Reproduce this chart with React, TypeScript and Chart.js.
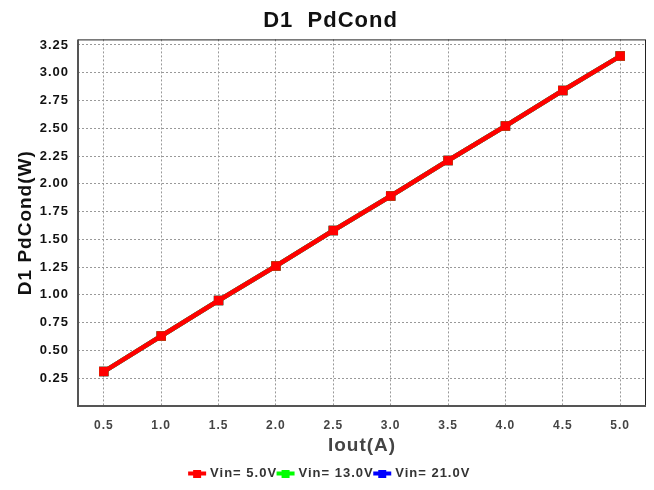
import React, { useEffect, useRef } from "react";
import { Chart, registerables } from "chart.js";

Chart.register(...registerables);

const iout = [0.5, 1.0, 1.5, 2.0, 2.5, 3.0, 3.5, 4.0, 4.5, 5.0];
const vin5 = [0.31, 0.63, 0.95, 1.26, 1.58, 1.89, 2.21, 2.52, 2.84, 3.15];
const vin13 = [0.31, 0.63, 0.95, 1.26, 1.58, 1.89, 2.21, 2.52, 2.84, 3.15];
const vin21 = [0.31, 0.63, 0.95, 1.26, 1.58, 1.89, 2.21, 2.52, 2.84, 3.15];
const xTicks = [0.5, 1.0, 1.5, 2.0, 2.5, 3.0, 3.5, 4.0, 4.5, 5.0];
const yTicks = [0.25, 0.5, 0.75, 1.0, 1.25, 1.5, 1.75, 2.0, 2.25, 2.5, 2.75, 3.0, 3.25];

const FONT = "'Liberation Sans', Arial, sans-serif";

const spacing = {
  id: "spacing",
  beforeLayout(chart: any) {
    chart.ctx.letterSpacing = "1px";
  },
  beforeDraw(chart: any) {
    chart.ctx.letterSpacing = "1px";
  },
};

const frame = {
  id: "frame",
  afterDatasetsDraw(chart: any) {
    const { ctx, chartArea: a } = chart;
    ctx.save();
    ctx.strokeStyle = "#222";
    ctx.lineWidth = 1;
    ctx.strokeRect(a.left + 0.5, a.top + 0.5, a.right - a.left - 1, a.bottom - a.top - 1);
    ctx.strokeStyle = "#555";
    ctx.lineWidth = 2;
    ctx.beginPath();
    ctx.moveTo(a.left, a.top);
    ctx.lineTo(a.left, a.bottom);
    ctx.lineTo(a.right, a.bottom);
    ctx.stroke();
    ctx.restore();
  },
};

function legendIcon(color: string) {
  const c = document.createElement("canvas");
  c.width = 20;
  c.height = 8;
  const g = c.getContext("2d")!;
  g.fillStyle = color;
  g.fillRect(1, 2, 18, 4);
  g.fillRect(6, 0, 8, 8);
  return c;
}

export default function App() {
  const ref = useRef<HTMLCanvasElement>(null);
  useEffect(() => {
    document.body.style.margin = "0";
    const mk = (label: string, data: number[], color: string, order: number) => ({
      label,
      data: iout.map((x, i) => ({ x, y: data[i] })),
      borderColor: color,
      backgroundColor: color,
      borderWidth: 4.5,
      pointStyle: "rect",
      pointRadius: 3.5,
      pointHoverRadius: 3.5,
      order,
    });
    const colors = ["#ff0000", "#00ff00", "#0000ff"];
    const chart = new Chart(ref.current!, {
      type: "line",
      data: {
        datasets: [
          mk("Vin= 5.0V", vin5, colors[0], 0),
          mk("Vin= 13.0V", vin13, colors[1], 1),
          mk("Vin= 21.0V", vin21, colors[2], 2),
        ],
      },
      options: {
        animation: false,
        responsive: false,
        layout: { padding: { left: 14, right: 7, top: 2, bottom: 0 } },
        plugins: {
          title: {
            display: true,
            text: "D1  PdCond",
            font: { family: FONT, size: 22, weight: "bold" },
            color: "#111",
            padding: { top: 6, bottom: 5 },
          },
          legend: {
            position: "bottom",
            labels: {
              font: { family: FONT, size: 13, weight: "bold" },
              color: "#333",
              usePointStyle: true,
              padding: 2,
              generateLabels: (ch: any) =>
                ch.data.datasets.map((d: any, i: number) => ({
                  text: d.label,
                  pointStyle: legendIcon(colors[i]),
                  fillStyle: colors[i],
                  strokeStyle: colors[i],
                  lineWidth: 0,
                  hidden: false,
                  datasetIndex: i,
                  fontColor: "#333",
                })),
            },
          },
          tooltip: { enabled: false },
        },
        scales: {
          x: {
            type: "linear",
            min: 0.275,
            max: 5.225,
            afterBuildTicks: (s: any) => {
              s.ticks = xTicks.map((v) => ({ value: v }));
            },
            afterFit: (s: any) => {
              s.height = 59;
            },
            ticks: {
              font: { family: FONT, size: 12, weight: "bold" },
              color: "#444",
              padding: 12,
              callback: (v: any) => Number(v).toFixed(1),
            },
            grid: {
              color: "#999",
              lineWidth: 1,
              drawTicks: false,
            },
            border: { display: false, dash: [2, 2] },
            title: {
              display: true,
              text: "Iout(A)",
              font: { family: FONT, size: 19, weight: "bold" },
              color: "#444",
              padding: { top: 2, bottom: 8 },
            },
          },
          y: {
            type: "linear",
            min: 0,
            max: 3.3,
            afterBuildTicks: (s: any) => {
              s.ticks = yTicks.map((v) => ({ value: v }));
            },
            afterFit: (s: any) => {
              s.width = 64;
            },
            ticks: {
              font: { family: FONT, size: 13, weight: "bold" },
              color: "#111",
              padding: 9,
              callback: (v: any) => Number(v).toFixed(2),
            },
            grid: {
              color: "#999",
              lineWidth: 1,
              drawTicks: false,
            },
            border: { display: false, dash: [2, 2] },
            title: {
              display: true,
              text: "D1 PdCond(W)",
              font: { family: FONT, size: 19, weight: "bold" },
              color: "#111",
              padding: { top: 0, bottom: 4 },
            },
          },
        },
      },
      plugins: [spacing, frame],
    } as any);
    return () => chart.destroy();
  }, []);
  return <canvas ref={ref} width={654} height={490} style={{ display: "block" }} />;
}
